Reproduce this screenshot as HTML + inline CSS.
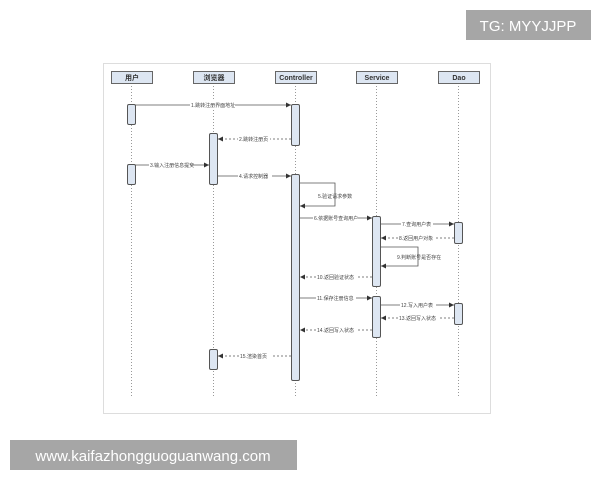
<!DOCTYPE html>
<html><head><meta charset="utf-8"><style>
html,body{margin:0;padding:0;background:#fff;width:600px;height:480px;overflow:hidden}
svg{position:absolute;left:0;top:0}
.t{font-family:"Liberation Sans","Noto Sans CJK SC",sans-serif}
</style></head><body>
<svg width="600" height="480" viewBox="0 0 600 480">
<defs>
<marker id="a" markerWidth="6" markerHeight="6" refX="5" refY="3" orient="auto" markerUnits="userSpaceOnUse"><path d="M0,0.5 L5,3 L0,5.5 Z" fill="#333"/></marker>
</defs>
<rect x="103.5" y="63.5" width="387" height="350" fill="#fff" stroke="#ddd"/>
<g stroke="#999" stroke-dasharray="1,2" stroke-width="1">
<line x1="131.5" y1="83" x2="131.5" y2="398"/>
<line x1="213.5" y1="83" x2="213.5" y2="398"/>
<line x1="295.5" y1="83" x2="295.5" y2="398"/>
<line x1="376.5" y1="83" x2="376.5" y2="398"/>
<line x1="458.5" y1="83" x2="458.5" y2="398"/>
</g>
<g fill="#dde6f2" stroke="#666" stroke-width="1">
<rect x="111.5" y="71.5" width="41" height="12"/>
<rect x="193.5" y="71.5" width="41" height="12"/>
<rect x="275.5" y="71.5" width="41" height="12"/>
<rect x="356.5" y="71.5" width="41" height="12"/>
<rect x="438.5" y="71.5" width="41" height="12"/>
</g>
<g class="t" font-size="7" font-weight="bold" fill="#333" text-anchor="middle">
<text x="132" y="80">用户</text><text x="214" y="80">浏览器</text><text x="296" y="80">Controller</text><text x="377" y="80">Service</text><text x="459" y="80">Dao</text>
</g>
<g fill="#dde6f2" stroke="#555" stroke-width="1">
<rect x="127.5" y="104.5" width="8" height="20" rx="1.5"/>
<rect x="127.5" y="164.5" width="8" height="20" rx="1.5"/>
<rect x="209.5" y="133.5" width="8" height="51" rx="1.5"/>
<rect x="209.5" y="349.5" width="8" height="20" rx="1.5"/>
<rect x="291.5" y="104.5" width="8" height="41" rx="1.5"/>
<rect x="291.5" y="174.5" width="8" height="206" rx="1.5"/>
<rect x="372.5" y="216.5" width="8" height="70" rx="1.5"/>
<rect x="372.5" y="296.5" width="8" height="41" rx="1.5"/>
<rect x="454.5" y="222.5" width="8" height="21" rx="1.5"/>
<rect x="454.5" y="303.5" width="8" height="21" rx="1.5"/>
</g>
<g stroke="#555" stroke-width="0.8" fill="none" marker-end="url(#a)">
<line x1="135" y1="105" x2="291" y2="105"/>
<line x1="291" y1="139" x2="218" y2="139" stroke-dasharray="2,2"/>
<line x1="135" y1="165" x2="209" y2="165"/>
<line x1="217" y1="176" x2="291" y2="176"/>
<polyline points="299,183 335,183 335,206 300,206"/>
<line x1="299" y1="218" x2="372" y2="218"/>
<line x1="380" y1="224" x2="454" y2="224"/>
<line x1="454" y1="238" x2="381" y2="238" stroke-dasharray="2,2"/>
<polyline points="380,247 418,247 418,266 381,266"/>
<line x1="372" y1="277" x2="300" y2="277" stroke-dasharray="2,2"/>
<line x1="299" y1="298" x2="372" y2="298"/>
<line x1="380" y1="305" x2="454" y2="305"/>
<line x1="454" y1="318" x2="381" y2="318" stroke-dasharray="2,2"/>
<line x1="372" y1="330" x2="300" y2="330" stroke-dasharray="2,2"/>
<line x1="291" y1="356" x2="218" y2="356" stroke-dasharray="2,2"/>
</g>
<g class="t" font-size="5" fill="#444">
<rect x="190" y="101" width="45" height="7" fill="#fff"/><text x="191" y="107">1.跳转注册界面地址</text>
<rect x="238" y="135" width="32" height="7" fill="#fff"/><text x="239" y="141">2.跳转注册页</text>
<rect x="149" y="161" width="41" height="7" fill="#fff"/><text x="150" y="167">3.输入注册信息提交</text>
<rect x="238" y="172" width="34" height="7" fill="#fff"/><text x="239" y="178">4.请求控制器</text>
<text x="318" y="198">5.验证请求参数</text>
<rect x="313" y="214" width="45" height="7" fill="#fff"/><text x="314" y="220">6.依据账号查询用户</text>
<rect x="401" y="220" width="32" height="7" fill="#fff"/><text x="402" y="226">7.查询用户表</text>
<rect x="398" y="234" width="37" height="7" fill="#fff"/><text x="399" y="240">8.返回用户对象</text>
<text x="397" y="259">9.判断账号是否存在</text>
<rect x="316" y="273" width="40" height="7" fill="#fff"/><text x="317" y="279">10.返回验证状态</text>
<rect x="316" y="294" width="40" height="7" fill="#fff"/><text x="317" y="300">11.保存注册信息</text>
<rect x="400" y="301" width="36" height="7" fill="#fff"/><text x="401" y="307">12.写入用户表</text>
<rect x="398" y="314" width="40" height="7" fill="#fff"/><text x="399" y="320">13.返回写入状态</text>
<rect x="316" y="326" width="40" height="7" fill="#fff"/><text x="317" y="332">14.返回写入状态</text>
<rect x="239" y="352" width="32" height="7" fill="#fff"/><text x="240" y="358">15.渲染首页</text>
</g>
<rect x="466" y="10" width="125" height="30" fill="#a6a6a6"/>
<text class="t" x="528" y="31" font-size="15" fill="#fff" text-anchor="middle">TG: MYYJJPP</text>
<rect x="10" y="440" width="287" height="30" fill="#a6a6a6"/>
<text class="t" x="153" y="461" font-size="15" fill="#fff" text-anchor="middle">www.kaifazhongguoguanwang.com</text>
</svg>
</body></html>
